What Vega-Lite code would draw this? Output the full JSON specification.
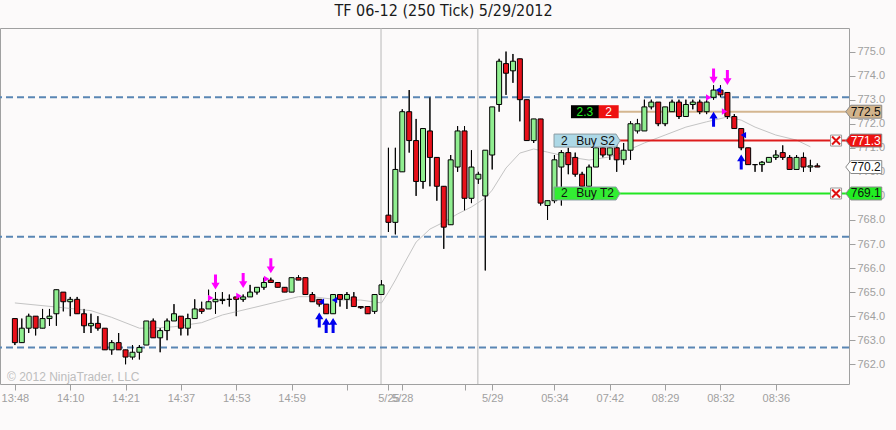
{
  "$schema": "https://vega.github.io/schema/vega-lite/v6.json",
  "width": 849,
  "height": 356,
  "autosize": "none",
  "padding": {"left": 0, "top": 28, "right": 47, "bottom": 46},
  "background": "#fcfafa",
  "title": {
    "text": "TF 06-12 (250 Tick)  5/29/2012",
    "font": "Liberation Sans Narrow, DejaVu Sans Condensed, sans-serif",
    "fontSize": 16,
    "fontWeight": "normal",
    "color": "#1a1a1a",
    "anchor": "middle",
    "offset": 9,
    "dx": 19
  },
  "config": {
    "view": {"stroke": "#a0a0a0", "fill": "#fcfafa"},
    "axis": {
      "labelFont": "Liberation Sans, Arial, sans-serif",
      "labelFontSize": 11,
      "labelColor": "#a0a0a0",
      "tickColor": "#a0a0a0",
      "tickSize": 6,
      "domain": false,
      "grid": false,
      "labelOverlap": false,
      "labelFlush": false,
      "labelBound": false,
      "labelPadding": 2
    }
  },
  "resolve": {"axis": {"x": "independent", "y": "independent"}},
  "datasets": {
    "bars": [
      {"i": 0, "open": 763.9, "high": 763.9, "low": 762.8, "close": 762.9},
      {"i": 1, "open": 762.9, "high": 763.9, "low": 762.9, "close": 763.5},
      {"i": 2, "open": 763.5, "high": 764.1, "low": 763.3, "close": 764.0},
      {"i": 3, "open": 764.0, "high": 764.0, "low": 763.2, "close": 763.5},
      {"i": 4, "open": 763.5, "high": 764.3, "low": 763.5, "close": 763.9},
      {"i": 5, "open": 763.9, "high": 764.3, "low": 763.6, "close": 764.0},
      {"i": 6, "open": 764.1, "high": 765.1, "low": 763.6, "close": 765.1},
      {"i": 7, "open": 765.0, "high": 765.0, "low": 764.2, "close": 764.6},
      {"i": 8, "open": 764.6, "high": 764.8, "low": 764.0, "close": 764.7},
      {"i": 9, "open": 764.7, "high": 764.8, "low": 764.1, "close": 764.1},
      {"i": 10, "open": 764.1, "high": 764.3, "low": 763.3, "close": 763.6},
      {"i": 11, "open": 763.6, "high": 764.1, "low": 763.3, "close": 763.7},
      {"i": 12, "open": 763.7, "high": 764.0, "low": 763.4, "close": 763.5},
      {"i": 13, "open": 763.5, "high": 763.5, "low": 762.6, "close": 762.6},
      {"i": 14, "open": 762.6, "high": 763.0, "low": 762.4, "close": 762.9},
      {"i": 15, "open": 762.9, "high": 763.3, "low": 762.6, "close": 762.6},
      {"i": 16, "open": 762.6, "high": 762.6, "low": 762.0, "close": 762.3},
      {"i": 17, "open": 762.3, "high": 762.8, "low": 762.2, "close": 762.5},
      {"i": 18, "open": 762.5, "high": 762.8, "low": 762.2, "close": 762.7},
      {"i": 19, "open": 762.8, "high": 763.8, "low": 762.8, "close": 763.8},
      {"i": 20, "open": 763.8, "high": 763.9, "low": 763.1, "close": 763.1},
      {"i": 21, "open": 763.1, "high": 763.5, "low": 762.5, "close": 763.4},
      {"i": 22, "open": 763.4, "high": 763.9, "low": 763.0, "close": 763.8},
      {"i": 23, "open": 763.8, "high": 764.5, "low": 763.8, "close": 764.1},
      {"i": 24, "open": 764.0, "high": 764.0, "low": 763.2, "close": 763.5},
      {"i": 25, "open": 763.5, "high": 764.1, "low": 763.2, "close": 763.9},
      {"i": 26, "open": 763.9, "high": 764.7, "low": 763.9, "close": 764.3},
      {"i": 27, "open": 764.3, "high": 764.6, "low": 764.1, "close": 764.2},
      {"i": 28, "open": 764.3, "high": 765.1, "low": 764.3, "close": 764.6},
      {"i": 29, "open": 764.6, "high": 765.0, "low": 764.1, "close": 764.7},
      {"i": 30, "open": 764.65, "high": 765.0, "low": 764.5, "close": 764.7},
      {"i": 31, "open": 764.7, "high": 764.9, "low": 764.4, "close": 764.7},
      {"i": 32, "open": 764.8, "high": 764.8, "low": 764.0, "close": 764.7},
      {"i": 33, "open": 764.7, "high": 764.9, "low": 764.6, "close": 764.8},
      {"i": 34, "open": 764.8, "high": 765.3, "low": 764.8, "close": 765.0},
      {"i": 35, "open": 765.0, "high": 765.2, "low": 764.9, "close": 765.2},
      {"i": 36, "open": 765.2, "high": 765.6, "low": 765.1, "close": 765.4},
      {"i": 37, "open": 765.5, "high": 765.6, "low": 765.4, "close": 765.4},
      {"i": 38, "open": 765.4, "high": 765.4, "low": 765.2, "close": 765.2},
      {"i": 39, "open": 765.2, "high": 765.2, "low": 765.0, "close": 765.0},
      {"i": 40, "open": 765.0, "high": 765.6, "low": 765.0, "close": 765.6},
      {"i": 41, "open": 765.6, "high": 765.7, "low": 765.5, "close": 765.5},
      {"i": 42, "open": 765.6, "high": 765.6, "low": 764.9, "close": 764.9},
      {"i": 43, "open": 764.9, "high": 765.0, "low": 764.6, "close": 764.6},
      {"i": 44, "open": 764.7, "high": 764.7, "low": 764.4, "close": 764.5},
      {"i": 45, "open": 764.5, "high": 764.5, "low": 764.1, "close": 764.1},
      {"i": 46, "open": 764.1, "high": 764.9, "low": 764.1, "close": 764.9},
      {"i": 47, "open": 764.9, "high": 764.9, "low": 764.4, "close": 764.7},
      {"i": 48, "open": 764.7, "high": 765.0, "low": 764.3, "close": 764.9},
      {"i": 49, "open": 764.8, "high": 765.0, "low": 764.4, "close": 764.4},
      {"i": 50, "open": 764.4, "high": 764.4, "low": 764.3, "close": 764.35},
      {"i": 51, "open": 764.4, "high": 764.4, "low": 764.1, "close": 764.1},
      {"i": 52, "open": 764.2, "high": 764.9, "low": 764.1, "close": 764.9},
      {"i": 53, "open": 764.9, "high": 765.5, "low": 764.9, "close": 765.3},
      {"i": 54, "open": 768.2, "high": 771.0, "low": 767.5, "close": 767.9},
      {"i": 55, "open": 767.9, "high": 771.0, "low": 767.4, "close": 770.1},
      {"i": 56, "open": 770.0, "high": 772.6, "low": 770.0, "close": 772.5},
      {"i": 57, "open": 772.5, "high": 773.4, "low": 770.8, "close": 771.3},
      {"i": 58, "open": 771.3, "high": 772.2, "low": 769.0, "close": 769.6},
      {"i": 59, "open": 769.6, "high": 771.8, "low": 769.3, "close": 771.8},
      {"i": 60, "open": 771.7, "high": 773.1, "low": 769.4, "close": 770.6},
      {"i": 61, "open": 770.6, "high": 770.6, "low": 768.8, "close": 769.4},
      {"i": 62, "open": 769.4, "high": 769.4, "low": 766.8, "close": 767.7},
      {"i": 63, "open": 767.8, "high": 770.7, "low": 767.8, "close": 770.5},
      {"i": 64, "open": 770.2, "high": 771.9, "low": 770.0, "close": 771.7},
      {"i": 65, "open": 771.7, "high": 771.9, "low": 768.4, "close": 768.9},
      {"i": 66, "open": 768.9, "high": 770.9, "low": 768.7, "close": 770.2},
      {"i": 67, "open": 769.7, "high": 770.0, "low": 769.5, "close": 769.9},
      {"i": 68, "open": 769.0, "high": 770.9, "low": 765.9, "close": 770.9},
      {"i": 69, "open": 770.7, "high": 772.7, "low": 770.1, "close": 772.7},
      {"i": 70, "open": 772.8, "high": 774.7, "low": 772.5, "close": 774.6},
      {"i": 71, "open": 774.5, "high": 775.0, "low": 773.2, "close": 774.1},
      {"i": 72, "open": 774.2, "high": 774.9, "low": 773.7, "close": 774.6},
      {"i": 73, "open": 774.7, "high": 774.7, "low": 772.1, "close": 773.0},
      {"i": 74, "open": 773.0, "high": 773.0, "low": 771.3, "close": 771.3},
      {"i": 75, "open": 771.3, "high": 772.2, "low": 771.2, "close": 772.2},
      {"i": 76, "open": 772.2, "high": 772.2, "low": 768.6, "close": 768.7},
      {"i": 77, "open": 768.6, "high": 768.8, "low": 768.0, "close": 768.8},
      {"i": 78, "open": 768.8, "high": 770.7, "low": 768.7, "close": 770.5},
      {"i": 79, "open": 770.2, "high": 770.9, "low": 768.6, "close": 770.8},
      {"i": 80, "open": 770.8, "high": 771.0, "low": 769.9, "close": 770.3},
      {"i": 81, "open": 770.6, "high": 770.8, "low": 769.8, "close": 769.9},
      {"i": 82, "open": 769.9, "high": 770.0, "low": 769.3, "close": 769.4},
      {"i": 83, "open": 769.4, "high": 770.3, "low": 769.3, "close": 770.2},
      {"i": 84, "open": 770.2, "high": 771.1, "low": 770.2, "close": 771.0},
      {"i": 85, "open": 771.0, "high": 771.2, "low": 770.6, "close": 770.7},
      {"i": 86, "open": 770.7, "high": 771.1, "low": 770.5, "close": 771.0},
      {"i": 87, "open": 771.0, "high": 771.2, "low": 770.0, "close": 770.5},
      {"i": 88, "open": 770.5, "high": 771.2, "low": 770.3, "close": 770.9},
      {"i": 89, "open": 770.9, "high": 772.1, "low": 770.5, "close": 772.0},
      {"i": 90, "open": 771.7, "high": 772.2, "low": 771.6, "close": 772.0},
      {"i": 91, "open": 771.7, "high": 773.0, "low": 771.7, "close": 772.7},
      {"i": 92, "open": 772.7, "high": 773.0, "low": 772.6, "close": 772.9},
      {"i": 93, "open": 772.9, "high": 772.9, "low": 771.9, "close": 772.0},
      {"i": 94, "open": 772.0, "high": 772.7, "low": 771.9, "close": 772.7},
      {"i": 95, "open": 772.5, "high": 773.0, "low": 772.5, "close": 772.9},
      {"i": 96, "open": 772.9, "high": 773.0, "low": 772.2, "close": 772.3},
      {"i": 97, "open": 772.3, "high": 773.0, "low": 772.3, "close": 772.8},
      {"i": 98, "open": 772.8, "high": 773.0, "low": 772.6, "close": 772.9},
      {"i": 99, "open": 772.9, "high": 773.0, "low": 772.4, "close": 772.5},
      {"i": 100, "open": 772.5, "high": 773.0, "low": 772.4, "close": 772.9},
      {"i": 101, "open": 773.1, "high": 773.6, "low": 773.0, "close": 773.4},
      {"i": 102, "open": 773.4, "high": 773.6, "low": 773.1, "close": 773.2},
      {"i": 103, "open": 773.3, "high": 773.3, "low": 772.2, "close": 772.3},
      {"i": 104, "open": 772.3, "high": 772.4, "low": 771.8, "close": 771.8},
      {"i": 105, "open": 771.8, "high": 771.8, "low": 770.9, "close": 771.0},
      {"i": 106, "open": 771.0, "high": 771.0, "low": 770.3, "close": 770.3},
      {"i": 107, "open": 770.3, "high": 770.3, "low": 770.0, "close": 770.3},
      {"i": 108, "open": 770.3, "high": 770.45, "low": 770.0, "close": 770.4},
      {"i": 109, "open": 770.4, "high": 770.6, "low": 770.4, "close": 770.6},
      {"i": 110, "open": 770.6, "high": 770.9, "low": 770.5, "close": 770.7},
      {"i": 111, "open": 770.8, "high": 771.1, "low": 770.5, "close": 770.6},
      {"i": 112, "open": 770.6, "high": 770.7, "low": 770.1, "close": 770.1},
      {"i": 113, "open": 770.1, "high": 770.7, "low": 770.1, "close": 770.6},
      {"i": 114, "open": 770.6, "high": 770.8, "low": 770.0, "close": 770.2},
      {"i": 115, "open": 770.2, "high": 770.5, "low": 770.0, "close": 770.25},
      {"i": 116, "open": 770.25, "high": 770.35, "low": 770.2, "close": 770.2}
    ],
    "sma": [
      {"i": 0, "v": 764.55}, {"i": 6, "v": 764.38}, {"i": 11, "v": 764.23},
      {"i": 14, "v": 763.95}, {"i": 18, "v": 763.5}, {"i": 20, "v": 763.51},
      {"i": 23, "v": 763.56}, {"i": 27, "v": 763.73}, {"i": 30, "v": 764.05},
      {"i": 35, "v": 764.39}, {"i": 41, "v": 764.81}, {"i": 43, "v": 764.81},
      {"i": 47, "v": 764.67}, {"i": 50, "v": 764.67}, {"i": 53, "v": 764.55},
      {"i": 54, "v": 765.0}, {"i": 55, "v": 765.5}, {"i": 56, "v": 766.04},
      {"i": 58, "v": 767.08}, {"i": 60, "v": 767.62}, {"i": 62, "v": 767.91},
      {"i": 64, "v": 768.25}, {"i": 66, "v": 768.54}, {"i": 68, "v": 768.91},
      {"i": 69, "v": 769.24}, {"i": 71, "v": 770.16}, {"i": 73, "v": 770.78},
      {"i": 75, "v": 770.95}, {"i": 77, "v": 770.82}, {"i": 80, "v": 770.62},
      {"i": 83, "v": 770.49}, {"i": 86, "v": 770.62}, {"i": 88, "v": 770.82},
      {"i": 91, "v": 771.2}, {"i": 94, "v": 771.53}, {"i": 97, "v": 771.86},
      {"i": 100, "v": 772.08}, {"i": 103, "v": 772.28}, {"i": 105, "v": 772.15},
      {"i": 107, "v": 771.86}, {"i": 110, "v": 771.53}, {"i": 113, "v": 771.32},
      {"i": 115, "v": 771.04}
    ],
    "levels": [{"p": 773.1}, {"p": 767.3}, {"p": 762.7}],
    "sessions": [{"i": 52.93}, {"i": 66.93}],
    "signals": [
      {"i": 29, "p": 765.42, "side": "sell"},
      {"i": 33, "p": 765.48, "side": "sell"},
      {"i": 37, "p": 766.1, "side": "sell"},
      {"i": 101, "p": 773.98, "side": "sell"},
      {"i": 103, "p": 773.92, "side": "sell"},
      {"i": 44, "p": 763.84, "side": "buy"},
      {"i": 45, "p": 763.61, "side": "buy"},
      {"i": 46, "p": 763.61, "side": "buy"},
      {"i": 101, "p": 772.19, "side": "buy"},
      {"i": 105, "p": 770.41, "side": "buy"}
    ],
    "fills": [
      {"i": 28.3, "p": 764.76, "side": "sell"},
      {"i": 32.4, "p": 764.84, "side": "sell"},
      {"i": 36.4, "p": 765.55, "side": "sell"},
      {"i": 100.3, "p": 773.09, "side": "sell"},
      {"i": 102.6, "p": 772.51, "side": "sell"},
      {"i": 44.3, "p": 764.6, "side": "buy"},
      {"i": 46.2, "p": 764.67, "side": "buy"},
      {"i": 101.7, "p": 773.4, "side": "buy"},
      {"i": 105.3, "p": 771.53, "side": "buy"}
    ],
    "orders": [
      {"kind": "position", "p": 772.5, "qty": 2, "pnl": 2.3},
      {"kind": "stop", "p": 771.3, "qty": 2, "name": "Buy S2"},
      {"kind": "target", "p": 769.1, "qty": 2, "name": "Buy T2"}
    ],
    "tags": [
      {"kind": "position", "p": 772.5},
      {"kind": "stop", "p": 771.3},
      {"kind": "last", "p": 770.2},
      {"kind": "target", "p": 769.1}
    ],
    "credits": [{"i": -1.14, "p": 761.46, "text": "© 2012 NinjaTrader, LLC"}]
  },
  "layer": [
    {
      "data": {"name": "bars"},
      "mark": {"type": "rule", "color": "black", "strokeWidth": 1},
      "encoding": {
        "x": {
          "field": "i",
          "type": "quantitative",
          "scale": {"domain": [-1.4286, 119.857], "nice": false, "zero": false},
          "axis": {
            "title": null,
            "orient": "bottom",
            "values": [0, 8, 16, 24, 32, 40, 48, 54, 56, 65, 69, 78, 86, 94, 102, 110],
            "labelExpr": "({'0':'13:48','8':'14:10','16':'14:21','24':'14:37','32':'14:53','40':'14:59','54':'5/25','56':'5/28','69':'5/29','78':'05:34','86':'07:42','94':'08:29','102':'08:32','110':'08:36'})[datum.value] || ''",
            "labelOverlap": false,
            "labelFlush": false
          }
        },
        "y": {
          "field": "low",
          "type": "quantitative",
          "scale": {"domain": [761.18, 775.98], "nice": false, "zero": false},
          "axis": {
            "title": null,
            "orient": "right",
            "values": [762, 763, 764, 765, 766, 767, 768, 769, 770, 771, 772, 773, 774, 775],
            "format": ".1f",
            "labelOverlap": false
          }
        },
        "y2": {"field": "high"}
      }
    },
    {
      "data": {"name": "sessions"},
      "mark": {"type": "rule", "color": "#b8b8b8", "strokeWidth": 1},
      "encoding": {"x": {"field": "i", "type": "quantitative", "axis": null}}
    },
    {
      "data": {"name": "levels"},
      "mark": {"type": "rule", "color": "#5a86b4", "strokeWidth": 2, "strokeDash": [7, 4]},
      "encoding": {"y": {"field": "p", "type": "quantitative", "axis": null}}
    },
    {
      "data": {"name": "sma"},
      "mark": {"type": "line", "color": "#c4c4c4", "strokeWidth": 1},
      "encoding": {
        "x": {"field": "i", "type": "quantitative", "axis": null},
        "y": {"field": "v", "type": "quantitative", "axis": null}
      }
    },
    {
      "data": {"name": "orders"},
      "mark": {"type": "rule", "strokeWidth": 2},
      "encoding": {
        "x": {"datum": 87.24, "type": "quantitative", "axis": null},
        "x2": {"value": "width"},
        "y": {"field": "p", "type": "quantitative", "axis": null},
        "stroke": {
          "condition": [
            {"test": "datum.kind == 'position'", "value": "#d4b690"},
            {"test": "datum.kind == 'stop'", "value": "#dd1c1c"}
          ],
          "value": "#22e622"
        }
      }
    },
    {
      "data": {"name": "bars"},
      "layer": [
        {
          "mark": {"type": "rule", "color": "black", "strokeWidth": 1},
          "encoding": {
            "x": {"field": "i", "type": "quantitative", "axis": null},
            "y": {"field": "low", "type": "quantitative", "axis": null},
            "y2": {"field": "high"}
          }
        },
        {
          "mark": {"type": "bar", "size": 5, "stroke": "black", "strokeWidth": 1},
          "encoding": {
            "x": {"field": "i", "type": "quantitative", "axis": null},
            "y": {"field": "open", "type": "quantitative", "axis": null},
            "y2": {"field": "close"},
            "fill": {
              "condition": {"test": "datum.close >= datum.open", "value": "#90ee90"},
              "value": "#e8101a"
            }
          }
        }
      ]
    },
    {
      "data": {"name": "orders"},
      "transform": [{"filter": "datum.kind != 'position'"}],
      "layer": [
        {
          "mark": {"type": "point", "filled": true, "size": 4356, "shape": "M-1,-0.197H0.88L1,0L0.88,0.197H-1Z", "stroke": "#8c9ca4", "strokeWidth": 1, "opacity": 1},
          "encoding": {
            "x": {"datum": 82.71, "type": "quantitative", "axis": null},
            "y": {"field": "p", "type": "quantitative", "axis": null},
            "fill": {"condition": {"test": "datum.kind == 'stop'", "value": "#add8e6"}, "value": "#33ee33"}
          }
        },
        {
          "mark": {"type": "text", "font": "Liberation Sans, Arial, sans-serif", "fontSize": 12, "color": "#111", "align": "center", "baseline": "middle"},
          "encoding": {
            "x": {"datum": 79.43, "type": "quantitative", "axis": null},
            "y": {"field": "p", "type": "quantitative", "axis": null},
            "text": {"field": "qty", "type": "quantitative"}
          }
        },
        {
          "mark": {"type": "text", "font": "Liberation Sans, Arial, sans-serif", "fontSize": 12, "color": "#111", "align": "left", "baseline": "middle"},
          "encoding": {
            "x": {"datum": 81.14, "type": "quantitative", "axis": null},
            "y": {"field": "p", "type": "quantitative", "axis": null},
            "text": {"field": "name", "type": "nominal"}
          }
        }
      ]
    },
    {
      "data": {"name": "orders"},
      "transform": [{"filter": "datum.kind == 'position'"}],
      "layer": [
        {
          "mark": {"type": "point", "filled": true, "size": 784, "shape": "M-1,-0.464H1V0.464H-1Z", "color": "#000000", "opacity": 1},
          "encoding": {
            "x": {"datum": 82.41, "type": "quantitative", "axis": null},
            "y": {"field": "p", "type": "quantitative", "axis": null}
          }
        },
        {
          "mark": {"type": "text", "font": "Liberation Sans, Arial, sans-serif", "fontSize": 12, "color": "#22ee22", "align": "center", "baseline": "middle"},
          "encoding": {
            "x": {"datum": 82.41, "type": "quantitative", "axis": null},
            "y": {"field": "p", "type": "quantitative", "axis": null},
            "text": {"field": "pnl", "type": "quantitative", "format": ".1f"}
          }
        },
        {
          "mark": {"type": "point", "filled": true, "size": 400, "shape": "M-1,-0.65H1V0.65H-1Z", "color": "#ee1111", "opacity": 1},
          "encoding": {
            "x": {"datum": 85.84, "type": "quantitative", "axis": null},
            "y": {"field": "p", "type": "quantitative", "axis": null}
          }
        },
        {
          "mark": {"type": "text", "font": "Liberation Sans, Arial, sans-serif", "fontSize": 12, "color": "#ffffff", "align": "center", "baseline": "middle"},
          "encoding": {
            "x": {"datum": 85.84, "type": "quantitative", "axis": null},
            "y": {"field": "p", "type": "quantitative", "axis": null},
            "text": {"field": "qty", "type": "quantitative"}
          }
        }
      ]
    },
    {
      "data": {"name": "signals"},
      "mark": {"type": "point", "filled": true, "size": 225, "opacity": 1},
      "encoding": {
        "x": {"field": "i", "type": "quantitative", "axis": null},
        "y": {"field": "p", "type": "quantitative", "axis": null},
        "shape": {
          "condition": {"test": "datum.side == 'sell'", "value": "M-0.2,-1H0.2V0.1H0.55L0,1L-0.55,0.1H-0.2Z"},
          "value": "M-0.2,1H0.2V-0.1H0.55L0,-1L-0.55,-0.1H-0.2Z"
        },
        "fill": {"condition": {"test": "datum.side == 'sell'", "value": "#ff00ff"}, "value": "#0000ee"}
      }
    },
    {
      "data": {"name": "fills"},
      "mark": {"type": "point", "filled": true, "size": 40, "opacity": 1},
      "encoding": {
        "x": {"field": "i", "type": "quantitative", "axis": null},
        "y": {"field": "p", "type": "quantitative", "axis": null},
        "shape": {"condition": {"test": "datum.side == 'sell'", "value": "triangle-right"}, "value": "triangle-left"},
        "fill": {"condition": {"test": "datum.side == 'sell'", "value": "#ff00ff"}, "value": "#0000ee"}
      }
    },
    {
      "data": {"name": "tags"},
      "layer": [
        {
          "mark": {"type": "point", "filled": true, "size": 1296, "shape": "M-1,0L-0.72,-0.36H1V0.36H-0.72Z", "stroke": "#8a8a8a", "strokeWidth": 1, "opacity": 1},
          "encoding": {
            "x": {"datum": 122.71, "type": "quantitative", "axis": null},
            "y": {"field": "p", "type": "quantitative", "axis": null},
            "fill": {
              "condition": [
                {"test": "datum.kind == 'position'", "value": "#d2b48c"},
                {"test": "datum.kind == 'stop'", "value": "#ee1111"},
                {"test": "datum.kind == 'target'", "value": "#22ee22"}
              ],
              "value": "#ffffff"
            }
          }
        },
        {
          "mark": {"type": "text", "font": "Liberation Sans, Arial, sans-serif", "fontSize": 12, "align": "center", "baseline": "middle", "dx": 2},
          "encoding": {
            "x": {"datum": 122.71, "type": "quantitative", "axis": null},
            "y": {"field": "p", "type": "quantitative", "axis": null},
            "text": {"field": "p", "type": "quantitative", "format": ".1f"},
            "color": {"condition": {"test": "datum.kind == 'stop'", "value": "#ffffff"}, "value": "#111111"}
          }
        }
      ]
    },
    {
      "data": {"name": "orders"},
      "transform": [{"filter": "datum.kind != 'position'"}],
      "layer": [
        {
          "mark": {"type": "point", "shape": "square", "filled": true, "size": 121, "fill": "#ffffff", "stroke": "#9a9a9a", "strokeWidth": 1, "opacity": 1},
          "encoding": {
            "x": {"datum": 118.71, "type": "quantitative", "axis": null},
            "y": {"field": "p", "type": "quantitative", "axis": null}
          }
        },
        {
          "mark": {"type": "point", "shape": "M-1,-1L1,1M1,-1L-1,1", "filled": false, "size": 64, "stroke": "#e01010", "strokeWidth": 2, "opacity": 1},
          "encoding": {
            "x": {"datum": 118.71, "type": "quantitative", "axis": null},
            "y": {"field": "p", "type": "quantitative", "axis": null}
          }
        }
      ]
    },
    {
      "data": {"name": "credits"},
      "mark": {"type": "text", "font": "Liberation Sans, Arial, sans-serif", "fontSize": 12, "color": "#bdbdbd", "align": "left", "baseline": "middle"},
      "encoding": {
        "x": {"field": "i", "type": "quantitative", "axis": null},
        "y": {"field": "p", "type": "quantitative", "axis": null},
        "text": {"field": "text", "type": "nominal"}
      }
    }
  ]
}
